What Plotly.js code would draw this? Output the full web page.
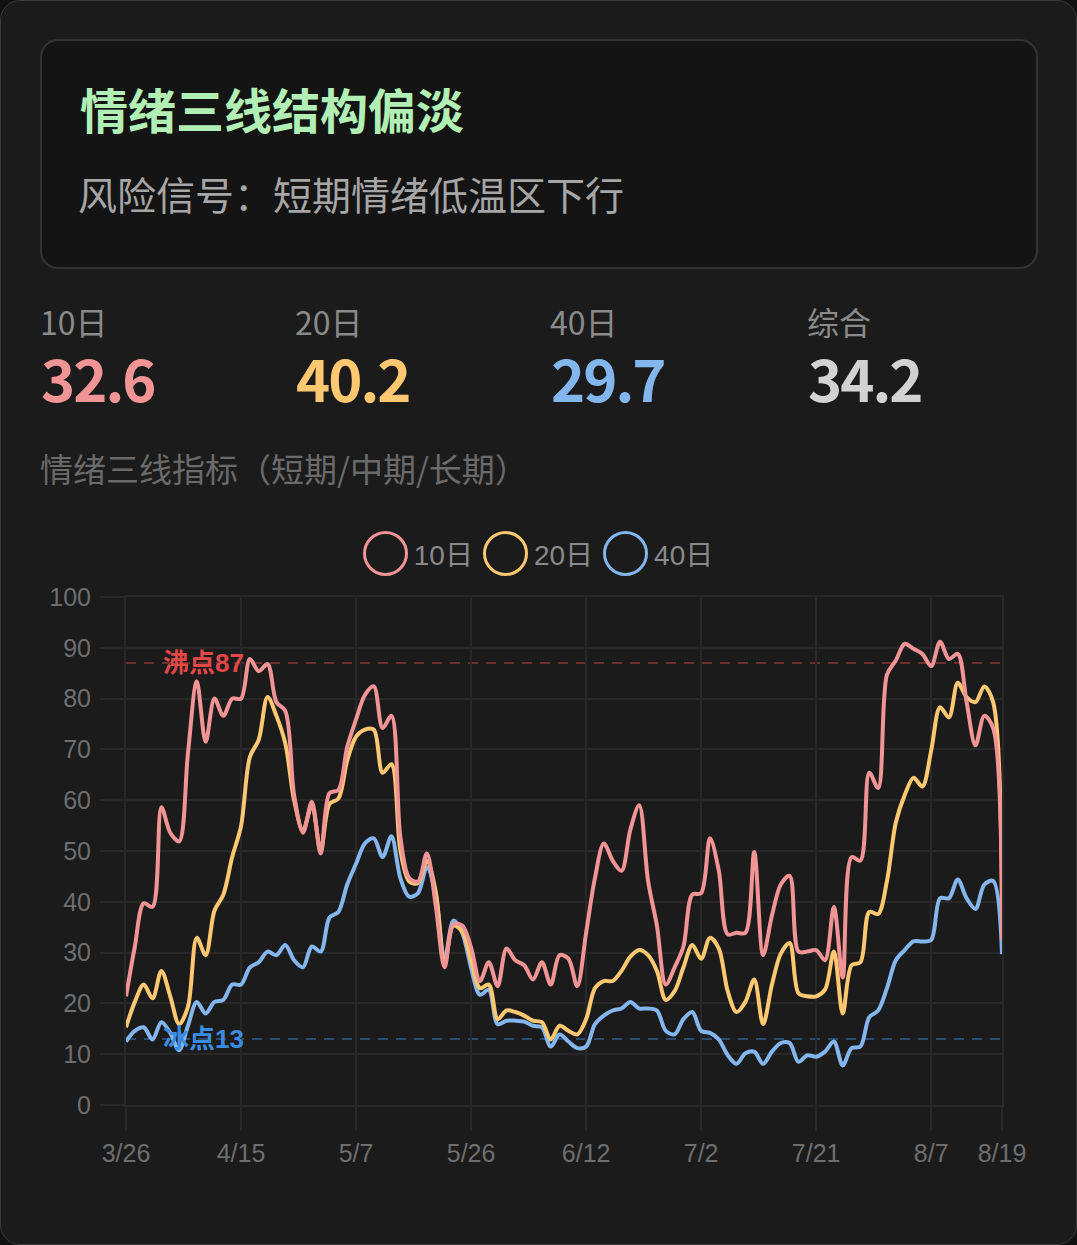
<!DOCTYPE html>
<html>
<head>
<meta charset="utf-8">
<script src="https://cdn.plot.ly/plotly-3.0.1.min.js"></script>
<style>
html, body { margin: 0; padding: 0; background: #111; }
body { width: 1077px; height: 1245px; position: relative; overflow: hidden; font-family: "Noto Sans CJK SC", "Liberation Sans", sans-serif; }
.card { position: absolute; left: 0; top: 0; width: 1075px; height: 1243px; border: 1px solid #3a3a3a; border-radius: 20px; background: #1b1b1b; }
.head { position: absolute; left: 40px; top: 39px; width: 994px; height: 226px; border: 2px solid #333; border-radius: 18px; background: #141414; }
.title { position: absolute; left: 80px; top: 84px; font-size: 48px; line-height: 48px; font-weight: bold; color: #b2efb4; white-space: nowrap; }
.sub { position: absolute; left: 78px; top: 174px; font-size: 39px; line-height: 39px; color: #a6a6a6; white-space: nowrap; }
.stat-label { position: absolute; top: 305px; font-size: 32px; line-height: 32px; color: #8a8a8a; white-space: nowrap; }
.stat-value { position: absolute; top: 348px; font-size: 58px; line-height: 58px; font-weight: bold; letter-spacing: -2px; white-space: nowrap; }
.chart-title { position: absolute; left: 40px; top: 452px; font-size: 33px; line-height: 33px; color: #6a6a6a; white-space: nowrap; }
#chart { position: absolute; left: 0; top: 500px; width: 1077px; height: 700px; }
.legend { position: absolute; left: 40px; width: 996px; top: 530px; height: 46px; display: flex; justify-content: center; align-items: center; }
.legend .item { display: flex; align-items: center; margin: 0 5px; }
.legend .dot { width: 39px; height: 39px; border-radius: 50%; border: 3px solid; box-sizing: content-box; }
.legend .txt { margin-left: 6px; font-family: "Liberation Sans", "Noto Sans CJK SC", sans-serif; font-size: 28px; color: #8a8a8a; }
</style>
</head>
<body>
<div class="card"></div>
<div class="head"></div>
<div class="title">情绪三线结构偏淡</div>
<div class="sub">风险信号：短期情绪低温区下行</div>
<div id="stats"></div>
<div class="chart-title">情绪三线指标（短期/中期/长期）</div>
<div id="chart"></div>
<div class="legend" id="legend"></div>

<script>
// trading days on the x axis
var dates = [
	'3/26','3/27','3/28','3/31','4/1','4/2','4/3','4/7','4/8','4/9','4/10','4/11','4/14','4/15',
	'4/16','4/17','4/18','4/21','4/22','4/23','4/24','4/25','4/28','4/29','4/30','5/6','5/7',
	'5/8','5/9','5/12','5/13','5/14','5/15','5/16','5/19','5/20','5/21','5/22','5/23','5/26',
	'5/27','5/28','5/29','5/30','6/2','6/3','6/4','6/5','6/6','6/9','6/10','6/11','6/12',
	'6/13','6/16','6/17','6/18','6/19','6/20','6/23','6/24','6/25','6/26','6/27','7/1','7/2',
	'7/3','7/4','7/7','7/8','7/9','7/10','7/11','7/14','7/15','7/16','7/17','7/18','7/21',
	'7/22','7/23','7/24','7/25','7/28','7/29','7/30','7/31','8/1','8/4','8/5','8/6','8/7',
	'8/8','8/11','8/12','8/13','8/14','8/15','8/18','8/19'
];

var tickDates = ['3/26','4/15','5/7','5/26','6/12','7/2','7/21','8/7','8/19'];

var short10 = [
	21.4,31.2,39.7,39.0,58.6,53.6,51.9,69.2,83.4,71.5,80.0,76.6,80.0,80.0,
	87.8,85.4,86.8,79.3,77.6,61.0,53.6,59.7,49.5,61.4,62.0,70.5,75.9,
	80.7,82.4,74.2,76.6,52.9,44.7,44.0,49.5,39.3,27.1,35.6,35.3,31.0,
	24.4,28.1,23.4,30.8,28.5,27.5,24.7,28.1,23.7,29.5,28.8,23.4,33.9,
	44.7,51.5,48.1,46.1,54.2,59.0,44.1,35.3,23.7,27.1,31.2,41.4,41.7,
	52.5,46.1,33.6,33.9,33.9,49.8,29.5,37.3,43.4,45.1,30.2,30.2,30.5,
	28.5,39.0,25.1,48.8,48.1,65.4,62.4,84.7,87.5,90.8,89.8,88.8,86.4,
	91.2,87.8,88.8,79.3,70.8,76.6,74.2,32.6
];

var mid20 = [
	15.3,20.3,23.7,21.0,26.4,21.4,15.9,19.3,32.9,29.5,38.3,41.4,48.8,54.9,
	68.5,71.9,80.3,76.6,71.2,60.0,54.0,59.0,50.0,59.3,60.3,67.8,72.5,
	73.9,73.9,65.4,67.1,50.2,44.0,43.7,48.1,42.0,27.8,35.3,34.2,28.5,
	23.0,23.7,16.9,18.6,18.3,17.6,16.6,16.3,12.9,15.6,14.6,13.9,16.9,
	23.0,24.4,24.4,26.4,29.2,30.5,29.5,26.4,20.7,22.4,27.1,31.5,28.8,
	32.9,30.8,22.4,18.3,20.3,24.7,15.9,23.7,29.8,31.9,22.0,21.4,21.4,
	22.7,30.2,18.0,27.5,28.1,38.0,37.6,44.1,55.6,61.0,64.4,62.7,69.8,
	78.3,76.3,83.1,80.3,79.3,82.4,79.3,40.2
];

var long40 = [
	12.5,14.6,15.3,12.9,16.3,14.2,10.8,15.6,20.3,18.0,20.3,20.7,23.7,23.7,
	27.1,28.1,30.2,29.5,31.5,28.5,27.1,31.2,30.2,36.9,38.0,43.4,47.5,
	51.5,52.5,48.8,52.9,44.7,41.0,41.7,46.8,41.4,28.5,36.3,33.9,27.0,
	21.7,22.7,15.9,16.6,16.6,16.4,15.6,15.3,11.5,13.9,12.5,11.2,11.5,
	15.9,17.6,18.6,19.0,20.3,19.0,19.0,18.6,14.6,13.9,16.9,18.3,14.6,
	14.2,12.9,9.8,8.1,10.2,10.5,8.1,10.5,12.2,12.2,8.5,9.8,9.5,
	10.5,12.5,7.8,11.2,11.5,17.3,18.6,23.0,28.5,30.5,32.2,32.2,32.5,
	40.7,40.7,44.4,40.7,38.6,43.4,44.1,29.7
];

var seriesNames = ['10日', '20日', '40日'];
var seriesColors = ['#f19496', '#fdc870', '#84b6ee'];

var statLabels = ['10日', '20日', '40日', '综合'];
var statValues = ['32.6', '40.2', '29.7', '34.2'];
var statColors = ['#f19496', '#fdc870', '#84b6ee', '#d2d2d2'];
var statLeft = [40, 295, 550, 807];

var boilLevel = 87;
var iceLevel = 13;

// stat cards
var stats = document.getElementById('stats');
statLabels.forEach(function(lbl, i) {
	var a = document.createElement('div');
	a.className = 'stat-label';
	a.style.left = statLeft[i] + 'px';
	a.textContent = lbl;
	stats.appendChild(a);
	var b = document.createElement('div');
	b.className = 'stat-value';
	b.style.left = (statLeft[i] + 1) + 'px';
	b.style.color = statColors[i];
	b.textContent = statValues[i];
	stats.appendChild(b);
});

// legend
var legend = document.getElementById('legend');
seriesNames.forEach(function(name, i) {
	var it = document.createElement('div');
	it.className = 'item';
	it.innerHTML = '<div class="dot" style="border-color:' + seriesColors[i] + '"></div><span class="txt">' + name + '</span>';
	legend.appendChild(it);
});

var allSeries = [short10, mid20, long40];
var traces = [];
// first series on top, like the original
for (var k = allSeries.length - 1; k >= 0; k--) {
	traces.push({
		x: dates,
		y: allSeries[k],
		type: 'scatter',
		mode: 'lines',
		name: seriesNames[k],
		line: { color: seriesColors[k], width: 4, shape: 'spline', smoothing: 0.9 },
		hoverinfo: 'skip'
	});
}

var gridColor = '#282828';
var tickFont = { family: 'Liberation Sans, Noto Sans CJK SC, sans-serif', size: 25, color: '#6e6e6e' };

var layout = {
	width: 1077,
	height: 700,
	margin: { l: 126, r: 75, t: 97, b: 95 },
	paper_bgcolor: 'rgba(0,0,0,0)',
	plot_bgcolor: 'rgba(0,0,0,0)',
	showlegend: false,
	xaxis: {
		type: 'category',
		range: [0, dates.length - 1],
		tickmode: 'array',
		tickvals: tickDates,
		ticktext: tickDates,
		showgrid: true,
		gridcolor: gridColor,
		gridwidth: 2,
		zeroline: false,
		showline: true,
		mirror: true,
		linecolor: gridColor,
		linewidth: 2,
		ticks: 'outside',
		ticklen: 24,
		tickwidth: 2,
		tickcolor: gridColor,
		tickfont: tickFont,
		ticklabelstandoff: 1
	},
	yaxis: {
		range: [0, 100],
		tickmode: 'linear',
		tick0: 0,
		dtick: 10,
		showgrid: true,
		gridcolor: gridColor,
		gridwidth: 2,
		zeroline: false,
		showline: true,
		mirror: true,
		linecolor: gridColor,
		linewidth: 2,
		ticks: 'outside',
		ticklen: 24,
		tickwidth: 2,
		tickcolor: gridColor,
		tickfont: tickFont,
		ticklabelstandoff: 4
	},
	shapes: [
		{ type: 'line', layer: 'below', xref: 'paper', x0: 0, x1: 1, yref: 'y', y0: boilLevel, y1: boilLevel,
		  line: { color: 'rgba(210,70,70,0.45)', width: 2, dash: '10px,8px' } },
		{ type: 'line', layer: 'below', xref: 'paper', x0: 0, x1: 1, yref: 'y', y0: iceLevel, y1: iceLevel,
		  line: { color: 'rgba(60,125,200,0.5)', width: 2, dash: '10px,8px' } }
	],
	annotations: [
		{ xref: 'paper', x: 0.04, xanchor: 'left', yref: 'y', y: boilLevel, yanchor: 'middle', showarrow: false,
		  text: '沸点' + boilLevel,
		  font: { family: 'Liberation Sans, Noto Sans CJK SC, sans-serif', size: 26, weight: 'bold', color: '#e04848' } },
		{ xref: 'paper', x: 0.04, xanchor: 'left', yref: 'y', y: iceLevel, yanchor: 'middle', showarrow: false,
		  text: '冰点' + iceLevel,
		  font: { family: 'Liberation Sans, Noto Sans CJK SC, sans-serif', size: 26, weight: 'bold', color: '#3a8ce0' } }
	]
};

Plotly.newPlot('chart', traces, layout, { displayModeBar: false, staticPlot: true });
</script>
</body>
</html>
